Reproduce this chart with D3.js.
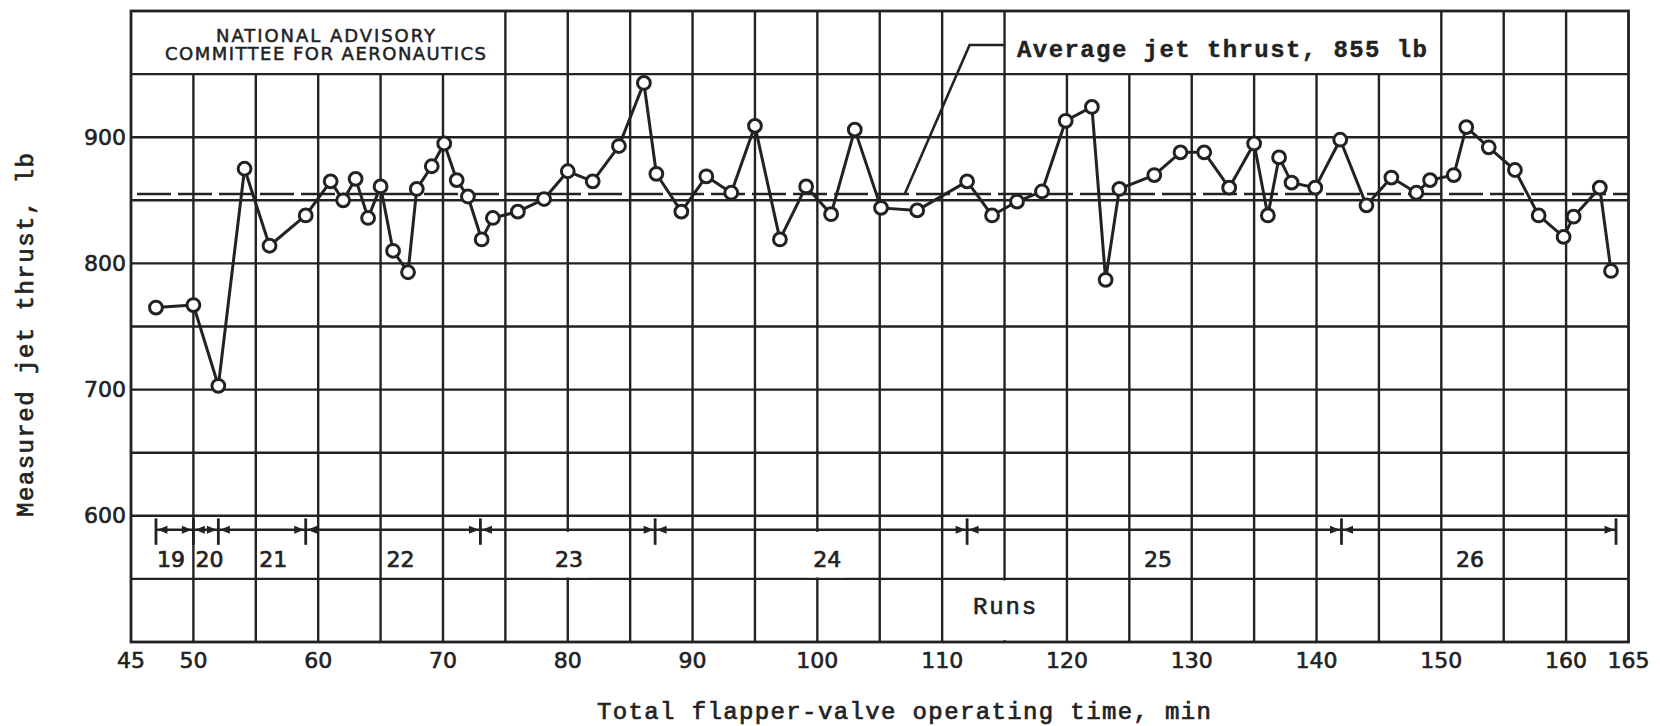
<!DOCTYPE html>
<html><head><meta charset="utf-8">
<script src="https://cdn.jsdelivr.net/npm/d3@7"></script>
<style>html,body{margin:0;padding:0;background:#fff;} svg{display:block;}</style>
</head><body>
<svg id="chart" width="1660" height="726"></svg>
<script>
// ---- data ----
const times = [47,50,52,54.1,56.1, 59,61,62,63,64, 65,66,67.2,67.9,69.1, 70.1,71.1,72,73.1,74,
  76,78.1,80,82,84.1, 86.1,87.1,89.1,91.1,93.1, 95,97,99.1,101.1,103, 105.1,108,112,114,116,
  118,119.9,122,123.1,124.2, 127,129.1,131,133,135, 136.1,137,138,139.9,141.9, 144,146,148,149.1,151,
  152,153.8,155.9,157.8,159.8, 160.6,162.7,163.6];
const thrust = [765,767,703,875,814, 838,865,850,867,836, 861,810,793,859,877, 895,866,853,819,836,
  841,851,873,865,893, 943,871,841,869,856, 909,819,861,839,906, 844,842,865,838,849,
  857,913,924,787,859, 870,888,888,860,895, 838,884,864,860,898, 846,868,856,866,870,
  908,892,874,838,821, 837,860,794];
const averageThrust = 855;
const xTickValues = [45,50,60,70,80,90,100,110,120,130,140,150,160,165];
const yTickValues = [600,700,800,900];
const runNames = ["19","20","21","22","23","24","25","26"];
const runBoundaries = [47,50,52,59,73,87,112,142,164];
const runLabelTimes = [48.2,51.3,56.4,66.6,80.1,100.8,127.3,152.3];
const xTitle = "Total flapper-valve operating time, min";
const yTitle = "Measured jet thrust, lb";
const avgLabel = "Average jet thrust, 855 lb";
const nacaLines = ["NATIONAL ADVISORY","COMMITTEE FOR AERONAUTICS"];

// ---- layout ----
const ink = "#222";
const svg = d3.select("#chart");
svg.append("rect").attr("width",1660).attr("height",726).attr("fill","#fff");
const x = d3.scaleLinear().domain([45,165]).range([131,1628.5]);
const y = d3.scaleLinear().domain([500,1000]).range([642,11]);
const mono = "'Liberation Mono','DejaVu Sans Mono',monospace";
const sans = "'DejaVu Sans',sans-serif";

// grid
const g = svg.append("g");
const vGrid = d3.range(50,165,5);
g.selectAll("line.v").data(vGrid).join("line")
  .attr("x1",d=>x(d)).attr("x2",d=>x(d))
  .attr("y1",d=> ((d>45&&d<75)||(d>115&&d<150)) ? y(950) : y(1000))
  .attr("y2",y(500))
  .attr("stroke",ink).attr("stroke-width",2.4);
const hGrid = d3.range(550,1000,50);
g.selectAll("line.h").data(hGrid).join("line")
  .attr("x1",x(45)).attr("x2",x(165))
  .attr("y1",d=>y(d)).attr("y2",d=>y(d))
  .attr("stroke",ink).attr("stroke-width",2.4);

// label backgrounds hiding grid
const bg = svg.append("g").attr("fill","#fff");
[[80.1,18],[100.8,18]].forEach(([t,w])=>{
  bg.append("rect").attr("x",x(t)-w).attr("width",2*w)
    .attr("y",y(587.3)).attr("height",y(551.2)-y(587.3));
});
bg.append("rect").attr("x",x(115)-40).attr("width",80)
  .attr("y",y(548.8)).attr("height",y(501.4)-y(548.8));

// frame
svg.append("rect").attr("x",x(45)).attr("y",y(1000))
  .attr("width",x(165)-x(45)).attr("height",y(500)-y(1000))
  .attr("fill","none").attr("stroke",ink).attr("stroke-width",2.8);

// NACA label
nacaLines.forEach((s,i)=>{
  svg.append("text").text(s)
    .attr("x",325.5).attr("y",[42,60][i])
    .attr("text-anchor","middle")
    .attr("font-family",sans).attr("font-size",18)
    .attr("textLength",[219,321][i]).attr("lengthAdjust","spacing")
    .attr("fill",ink).attr("stroke",ink).attr("stroke-width",0.5);
});

// average line
svg.append("line")
  .attr("x1",x(45)).attr("x2",x(165))
  .attr("y1",y(averageThrust)).attr("y2",y(averageThrust))
  .attr("stroke",ink).attr("stroke-width",2.6)
  .attr("stroke-dasharray","34,7").attr("stroke-dashoffset",-6);

// leader and average label
svg.append("path")
  .attr("d",d3.line()([[x(115),y(973)],[x(112.2),y(973)],[x(107),y(averageThrust)]]))
  .attr("fill","none").attr("stroke",ink).attr("stroke-width",2.6);
svg.append("text").text(avgLabel)
  .attr("x",1017).attr("y",57)
  .attr("font-family",mono).attr("font-size",24).attr("font-weight","bold")
  .attr("textLength",410).attr("lengthAdjust","spacing")
  .attr("fill",ink).attr("stroke",ink).attr("stroke-width",0.4);

// data line and circles
const pts = times.map((t,i)=>[t,thrust[i]]);
svg.append("path")
  .attr("d",d3.line().x(d=>x(d[0])).y(d=>y(d[1]))(pts))
  .attr("fill","none").attr("stroke",ink).attr("stroke-width",3)
  .attr("stroke-linejoin","round");
svg.selectAll("circle.pt").data(pts).join("circle")
  .attr("cx",d=>x(d[0])).attr("cy",d=>y(d[1])).attr("r",6.4)
  .attr("fill","#fff").attr("stroke",ink).attr("stroke-width",3);

// runs bar
const runY = y(589);
svg.append("line").attr("x1",x(runBoundaries[0])).attr("x2",x(runBoundaries[runBoundaries.length-1]))
  .attr("y1",runY).attr("y2",runY).attr("stroke",ink).attr("stroke-width",2.6);
svg.selectAll("line.tick").data(runBoundaries).join("line")
  .attr("x1",d=>x(d)).attr("x2",d=>x(d))
  .attr("y1",y(598)).attr("y2",y(577))
  .attr("stroke",ink).attr("stroke-width",2.8);
const ah = 10, aw = 4;
runBoundaries.forEach((b,i)=>{
  const bx = x(b);
  if(i>0){
    const tip = bx-1.5;
    svg.append("path").attr("d",`M${tip},${runY}L${tip-ah},${runY-aw}L${tip-ah},${runY+aw}Z`).attr("fill",ink);
  }
  if(i<runBoundaries.length-1){
    const tip = bx+1.5;
    svg.append("path").attr("d",`M${tip},${runY}L${tip+ah},${runY-aw}L${tip+ah},${runY+aw}Z`).attr("fill",ink);
  }
});
svg.selectAll("text.run").data(runNames).join("text")
  .text(d=>d)
  .attr("x",(d,i)=>x(runLabelTimes[i])).attr("y",567)
  .attr("text-anchor","middle")
  .attr("font-family",sans).attr("font-size",22)
  .attr("fill",ink).attr("stroke",ink).attr("stroke-width",0.7);
svg.append("text").text("Runs")
  .attr("x",x(115)).attr("y",614)
  .attr("text-anchor","middle")
  .attr("font-family",mono).attr("font-size",24)
  .attr("textLength",63).attr("lengthAdjust","spacing")
  .attr("fill",ink).attr("stroke",ink).attr("stroke-width",0.6);

// axes tick labels
svg.selectAll("text.xt").data(xTickValues).join("text")
  .text(d=>d)
  .attr("x",d=>x(d)).attr("y",668)
  .attr("text-anchor","middle")
  .attr("font-family",sans).attr("font-size",22)
  .attr("fill",ink).attr("stroke",ink).attr("stroke-width",0.6);
svg.selectAll("text.yt").data(yTickValues).join("text")
  .text(d=>d)
  .attr("x",126).attr("y",d=>y(d)+7.5)
  .attr("text-anchor","end")
  .attr("font-family",sans).attr("font-size",22)
  .attr("fill",ink).attr("stroke",ink).attr("stroke-width",0.6);

// axis titles
svg.append("text").text(xTitle)
  .attr("x",597).attr("y",719)
  .attr("font-family",mono).attr("font-size",24)
  .attr("textLength",614).attr("lengthAdjust","spacing")
  .attr("fill",ink).attr("stroke",ink).attr("stroke-width",0.7);
svg.append("text").text(yTitle)
  .attr("transform","translate(33,517) rotate(-90)")
  .attr("font-family",mono).attr("font-size",24)
  .attr("textLength",364).attr("lengthAdjust","spacing")
  .attr("fill",ink).attr("stroke",ink).attr("stroke-width",0.7);
</script>
</body></html>
